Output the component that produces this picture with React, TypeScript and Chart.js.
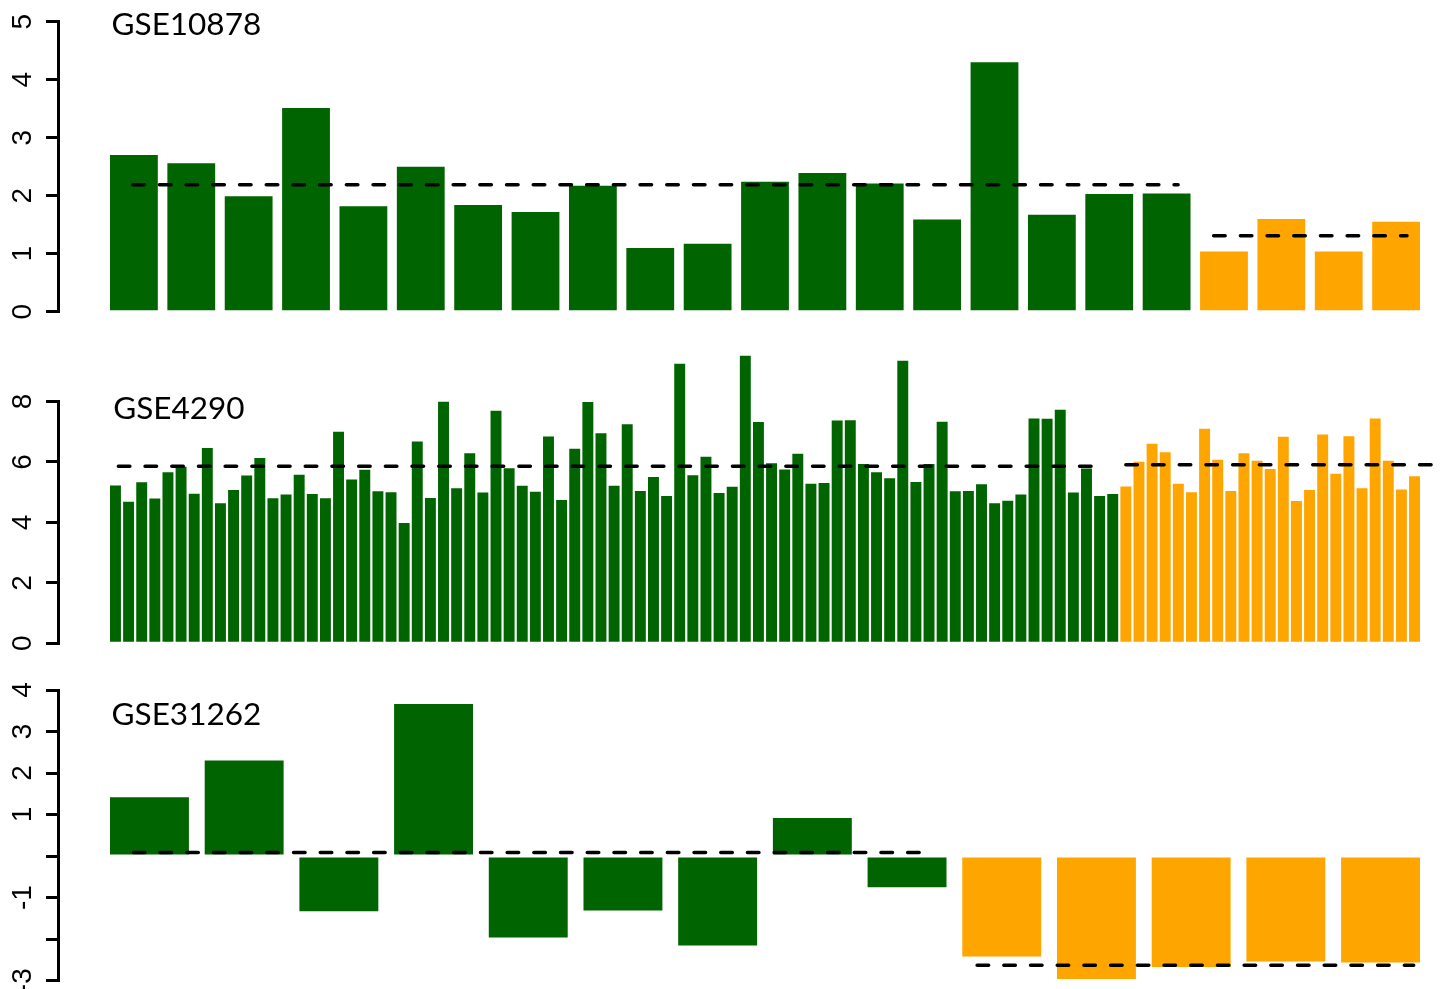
import React, { useEffect, useRef } from 'react';
import { Chart, registerables } from 'chart.js';

Chart.register(...registerables);

// ---------- colours ----------
const GREEN = '#006400';
const ORANGE = '#FFA500';

// ---------- data: GSE10878 ----------
const gse10878Title = 'GSE10878';
const gse10878Green = [2.70, 2.56, 1.99, 3.51, 1.82, 2.50, 1.84, 1.72, 2.17, 1.10, 1.17, 2.24, 2.39, 2.21, 1.59, 4.30, 1.67, 2.03, 2.04];
const gse10878Orange = [1.04, 1.60, 1.04, 1.55];
const gse10878Ticks = [0, 1, 2, 3, 4, 5];
const gse10878TickLabels = ['0', '1', '2', '3', '4', '5'];
const gse10878Means = [2.19, 1.31];
const gse10878MeanFrom = [-0.02, 18.82];
const gse10878MeanTo = [18.2, 22.19];

// ---------- data: GSE4290 ----------
const gse4290Title = 'GSE4290';
const gse4290Green = [
  5.22, 4.68, 5.33, 4.79, 5.66, 5.84, 4.95, 6.46, 4.63, 5.07, 5.55, 6.13, 4.80, 4.92, 5.58, 4.94, 4.80, 7.00, 5.42, 5.74, 5.03, 5.00, 3.98, 6.68, 4.81, 7.99,
  5.13, 6.29, 4.99, 7.69, 5.79, 5.21, 5.01, 6.84, 4.74, 6.44, 7.98, 6.95, 5.21, 7.25, 5.04, 5.50, 4.87, 9.25, 5.56, 6.17, 4.97, 5.18, 9.51, 7.32, 5.96, 5.75,
  6.27, 5.28, 5.30, 7.37, 7.38, 5.93, 5.66, 5.46, 9.35, 5.34, 5.93, 7.33, 5.03, 5.04, 5.26, 4.63, 4.72, 4.92, 7.44, 7.43, 7.73, 4.99, 5.78, 4.87, 4.94,
];
const gse4290Orange = [5.19, 6.01, 6.60, 6.32, 5.28, 5.00, 7.10, 6.07, 5.04, 6.29, 6.04, 5.77, 6.83, 4.71, 5.07, 6.91, 5.61, 6.85, 5.13, 7.44, 6.04, 5.09, 5.53];
const gse4290Ticks = [0, 2, 4, 6, 8];
const gse4290TickLabels = ['0', '2', '4', '6', '8'];
const gse4290Means = [5.86, 5.91];
const gse4290MeanFrom = [0.22, 77.0];
const gse4290MeanTo = [74.55, 100.3];

// ---------- data: GSE31262 ----------
const gse31262Title = 'GSE31262';
const gse31262Green = [1.42, 2.30, -1.33, 3.66, -1.96, -1.31, -2.15, 0.92, -0.75];
const gse31262Orange = [-2.42, -2.96, -2.67, -2.54, -2.56];
const gse31262Ticks = [-3, -2, -1, 0, 1, 2, 3, 4];
const gse31262TickLabels = ['-3', '', '-1', '', '1', '2', '3', '4'];
const gse31262Means = [0.09, -2.63];
const gse31262MeanFrom = [-0.17, 8.74];
const gse31262MeanTo = [8.17, 13.35];

// ---------- layout ----------
const CANVAS_W = 1441;
const AXIS_X = 58;
const BAR_LEFT = 110;
const BAR_RIGHT = 1420;
const TICK_LEN = 12;
const LABEL_CENTER_X = 23.4;
const TICK_FONT_FAMILY = '"Liberation Sans", Arial, sans-serif';
const TICK_FONT_SIZE = 28;
const TITLE_FONT = '31.5px Lato, "Open Sans", sans-serif';

type Panel = {
  title: string;
  green: number[];
  orange: number[];
  ticks: number[];
  tickLabels: string[];
  means: number[];
  meanFrom: number[];
  meanTo: number[];
  titleX: number;
  titleY: number;
  canvasTop: number;
  canvasHeight: number;
  areaTop: number;
  areaBottom: number;
};

const PANELS: Panel[] = [
  {
    title: gse10878Title, green: gse10878Green, orange: gse10878Orange,
    ticks: gse10878Ticks, tickLabels: gse10878TickLabels,
    means: gse10878Means, meanFrom: gse10878MeanFrom, meanTo: gse10878MeanTo,
    titleX: -0.39, titleY: 4.95,
    canvasTop: 0, canvasHeight: 335, areaTop: 21.7, areaBottom: 311.7,
  },
  {
    title: gse4290Title, green: gse4290Green, orange: gse4290Orange,
    ticks: gse4290Ticks, tickLabels: gse4290TickLabels,
    means: gse4290Means, meanFrom: gse4290MeanFrom, meanTo: gse4290MeanTo,
    titleX: -0.17, titleY: 7.77,
    canvasTop: 335, canvasHeight: 325, areaTop: 401.5, areaBottom: 643.3,
  },
  {
    title: gse31262Title, green: gse31262Green, orange: gse31262Orange,
    ticks: gse31262Ticks, tickLabels: gse31262TickLabels,
    means: gse31262Means, meanFrom: gse31262MeanFrom, meanTo: gse31262MeanTo,
    titleX: -0.4, titleY: 3.39,
    canvasTop: 660, canvasHeight: 360, areaTop: 690, areaBottom: 980.7,
  },
];

function widestLabel(labels: string[]): number {
  const c = document.createElement('canvas').getContext('2d');
  if (!c) return 0;
  c.font = `${TICK_FONT_SIZE}px ${TICK_FONT_FAMILY}`;
  return Math.max(...labels.map((l) => c.measureText(l).width));
}

function PanelChart({ panel }: { panel: Panel }) {
  const ref = useRef<HTMLCanvasElement | null>(null);

  useEffect(() => {
    if (!ref.current) return;
    const values = [...panel.green, ...panel.orange];
    const n = values.length;
    const colors = values.map((_, i) => (i < panel.green.length ? GREEN : ORANGE));
    const barW = (BAR_RIGHT - BAR_LEFT) / (1.2 * n - 0.2);
    const pitch = 1.2 * barW;
    const c0 = BAR_LEFT + barW / 2;
    const xMin = (AXIS_X - c0) / pitch;
    const xMax = (CANVAS_W - c0) / pitch;
    const widest = widestLabel(panel.tickLabels);
    const tickPad = AXIS_X - TICK_LEN - LABEL_CENTER_X - widest / 2;

    const overlay = {
      id: 'overlay',
      afterDatasetsDraw(chart: any) {
        const { ctx } = chart;
        const xs = chart.scales.x;
        const ys = chart.scales.y;
        ctx.save();
        ctx.strokeStyle = '#000';
        ctx.lineWidth = 3.5;
        ctx.lineCap = 'round';
        ctx.setLineDash([11.5, 15.2]);
        panel.means.forEach((m, i) => {
          const y = ys.getPixelForValue(m);
          ctx.beginPath();
          ctx.moveTo(xs.getPixelForValue(panel.meanFrom[i]), y);
          ctx.lineTo(xs.getPixelForValue(panel.meanTo[i]), y);
          ctx.stroke();
        });
        ctx.setLineDash([]);
        ctx.fillStyle = '#000';
        ctx.font = TITLE_FONT;
        ctx.textAlign = 'left';
        ctx.textBaseline = 'middle';
        ctx.fillText(panel.title, xs.getPixelForValue(panel.titleX), ys.getPixelForValue(panel.titleY));
        ctx.restore();
      },
    };

    const chart = new Chart(ref.current, {
      type: 'bar',
      data: {
        datasets: [
          {
            data: values.map((v, i) => ({ x: i, y: v })),
            backgroundColor: colors,
            borderWidth: 0,
            barPercentage: 1,
            categoryPercentage: 1 / 1.2,
            clip: false as any,
          },
        ],
      },
      options: {
        responsive: false,
        maintainAspectRatio: false,
        devicePixelRatio: 1,
        animation: false,
        events: [],
        layout: {
          padding: {
            left: 0,
            right: 0,
            top: panel.areaTop - panel.canvasTop,
            bottom: panel.canvasTop + panel.canvasHeight - panel.areaBottom,
          },
        },
        plugins: {
          legend: { display: false },
          tooltip: { enabled: false },
          title: { display: false },
        },
        scales: {
          x: {
            type: 'linear',
            display: false,
            offset: false,
            bounds: 'data',
            min: xMin,
            max: xMax,
            grid: { offset: false },
            afterBuildTicks: (axis: any) => {
              axis.ticks = values.map((_, i) => ({ value: i }));
            },
            afterFit: (axis: any) => {
              axis.paddingLeft = 0;
              axis.paddingRight = 0;
              axis.paddingTop = 0;
              axis.paddingBottom = 0;
            },
          },
          y: {
            type: 'linear',
            min: panel.ticks[0],
            max: panel.ticks[panel.ticks.length - 1],
            afterBuildTicks: (axis: any) => {
              axis.ticks = panel.ticks.map((v) => ({ value: v }));
            },
            afterFit: (axis: any) => {
              axis.width = AXIS_X;
              axis.paddingTop = 0;
              axis.paddingBottom = 0;
              axis.paddingLeft = 0;
              axis.paddingRight = 0;
            },
            ticks: {
              autoSkip: false,
              minRotation: 90,
              maxRotation: 90,
              crossAlign: 'center',
              padding: tickPad,
              color: '#000',
              font: { family: TICK_FONT_FAMILY, size: TICK_FONT_SIZE },
              callback: (_v: any, index: number) => panel.tickLabels[index],
            },
            grid: {
              drawOnChartArea: false,
              drawTicks: true,
              tickLength: TICK_LEN,
              lineWidth: 3,
              color: '#000',
            },
            border: { display: true, width: 3, color: '#000' },
          },
        },
      } as any,
      plugins: [overlay],
    });
    return () => chart.destroy();
  }, [panel]);

  return (
    <canvas
      ref={ref}
      width={CANVAS_W}
      height={panel.canvasHeight}
      style={{ position: 'absolute', left: 0, top: panel.canvasTop, width: CANVAS_W, height: panel.canvasHeight }}
    />
  );
}

export default function App() {
  return (
    <div style={{ position: 'fixed', left: 0, top: 0, width: 1441, height: 989, overflow: 'hidden', background: '#fff' }}>
      {PANELS.map((p) => (
        <PanelChart key={p.title} panel={p} />
      ))}
    </div>
  );
}
